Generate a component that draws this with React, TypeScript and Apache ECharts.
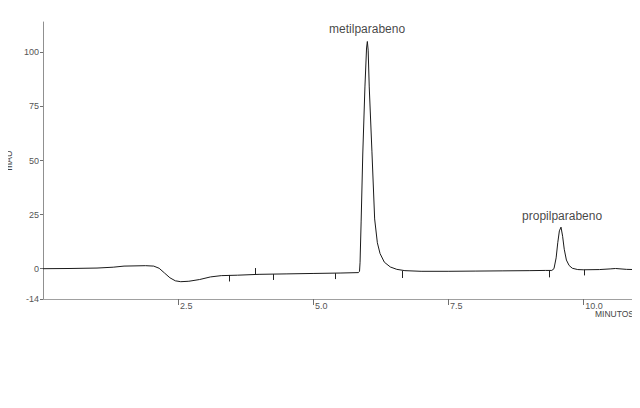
import React, { useEffect, useRef } from "react";
import * as echarts from "echarts";

// Chromatogram trace: [time (min), absorbance (mAU)]
const trace: [number, number][] = [
  [0, 0], [0.5, 0.1], [1.0, 0.3], [1.3, 0.7], [1.5, 1.2], [1.9, 1.4], [2.05, 1.2],
  [2.15, 0.2], [2.25, -2.0], [2.35, -4.2], [2.45, -5.6], [2.55, -6.0], [2.7, -5.8],
  [2.9, -5.0], [3.1, -3.8], [3.3, -3.2], [3.6, -3.0], [4.0, -2.6], [4.5, -2.4],
  [5.0, -2.2], [5.5, -2.0], [5.84, -1.8], [5.86, -1.2], [5.87, 3], [5.89, 22],
  [5.92, 53], [5.96, 84], [5.99, 102], [6.005, 105], [6.02, 101], [6.04, 84],
  [6.09, 54], [6.14, 23], [6.19, 12], [6.24, 7], [6.32, 3], [6.43, 0.8], [6.55, -0.3],
  [6.7, -0.9], [7.0, -1.2], [7.5, -1.2], [8.0, -1.1], [8.5, -1.0], [9.0, -0.9],
  [9.3, -0.8], [9.42, -0.8], [9.46, 0], [9.5, 5], [9.53, 12], [9.56, 17.5],
  [9.59, 19.2], [9.62, 15], [9.65, 9], [9.69, 4], [9.74, 1.5], [9.8, 0.2],
  [9.9, -0.4], [10.0, -0.5], [10.3, -0.4], [10.5, -0.1], [10.6, 0.1], [10.8, -0.3],
  [10.96, -0.4],
];

// Integration event marks: [time, from mAU, to mAU]
const eventMarks: [number, number, number][] = [
  [3.44, -2.9, -5.9],
  [3.93, -2.6, 0.3],
  [4.27, -2.5, -5.2],
  [5.41, -2.1, -4.8],
  [6.66, -1.0, -4.3],
  [9.37, -0.9, -4.0],
  [10.02, -0.5, -3.1],
];

// Peak names: [time, label height (mAU), name]
const peakNames: [number, number, string][] = [
  [6.0, 110.6, "metilparabeno"],
  [9.61, 24.5, "propilparabeno"],
];

const yTicks = [-14, 0, 25, 50, 75, 100];
const xTicks = [2.5, 5.0, 7.5, 10.0];

export default function App() {
  const ref = useRef<HTMLDivElement>(null);
  useEffect(() => {
    if (!ref.current) return;
    const chart = echarts.init(ref.current, undefined, { renderer: "svg" });
    const font = "Liberation Sans, Arial, sans-serif";
    chart.setOption({
      animation: false,
      backgroundColor: "#ffffff",
      grid: {
        left: 43,
        right: 5,
        top: 22,
        bottom: 109,
        containLabel: false,
        outerBoundsMode: "none",
      },
      xAxis: {
        type: "value",
        min: 0,
        max: 10.96,
        axisLine: { show: true, onZero: false, lineStyle: { color: "#a0a0a0", width: 1 } },
        axisTick: {
          show: true,
          customValues: xTicks,
          length: 6,
          lineStyle: { color: "#707070" },
        },
        axisLabel: {
          customValues: xTicks,
          formatter: (v: number) => v.toFixed(1),
          align: "left",
          margin: 2,
          padding: [0, 0, 0, 2],
          fontSize: 9,
          fontFamily: font,
          color: "#555",
        },
        splitLine: { show: false },
      },
      yAxis: {
        type: "value",
        min: -14,
        max: 114,
        name: "mAU",
        nameLocation: "middle",
        nameRotate: 90,
        nameGap: 30,
        nameTextStyle: { fontSize: 9, fontFamily: font, color: "#444" },
        axisLine: { show: true, onZero: false, lineStyle: { color: "#909090", width: 1 } },
        axisTick: {
          show: true,
          customValues: yTicks,
          length: 3,
          lineStyle: { color: "#707070" },
        },
        axisLabel: {
          customValues: yTicks,
          margin: 4,
          fontSize: 9,
          fontFamily: font,
          color: "#555",
        },
        splitLine: { show: false },
      },
      graphic: [
        {
          type: "text",
          x: 634,
          y: 314,
          style: {
            text: "MINUTOS",
            align: "right",
            verticalAlign: "middle",
            fontSize: 8.5,
            fontFamily: font,
            fill: "#444",
          },
        },
      ],
      series: [
        {
          type: "line",
          data: trace,
          showSymbol: false,
          symbol: "none",
          smooth: false,
          lineStyle: { color: "#1a1a1a", width: 1 },
          z: 3,
        },
        {
          type: "lines",
          coordinateSystem: "cartesian2d",
          polyline: false,
          lineStyle: { color: "#222", width: 1, opacity: 1 },
          data: eventMarks.map(([t, a, b]) => ({ coords: [[t, a], [t, b]] })),
          z: 2,
        },
        {
          type: "scatter",
          symbolSize: 0,
          data: peakNames.map(([t, v, name]) => ({ value: [t, v], name })),
          label: {
            show: true,
            position: "inside",
            formatter: (p: any) => p.name,
            fontSize: 12,
            fontFamily: font,
            color: "#111",
          },
          z: 4,
        },
      ],
    });
    return () => chart.dispose();
  }, []);
  return <div ref={ref} style={{ width: 640, height: 408, margin: -8 }} />;
}
